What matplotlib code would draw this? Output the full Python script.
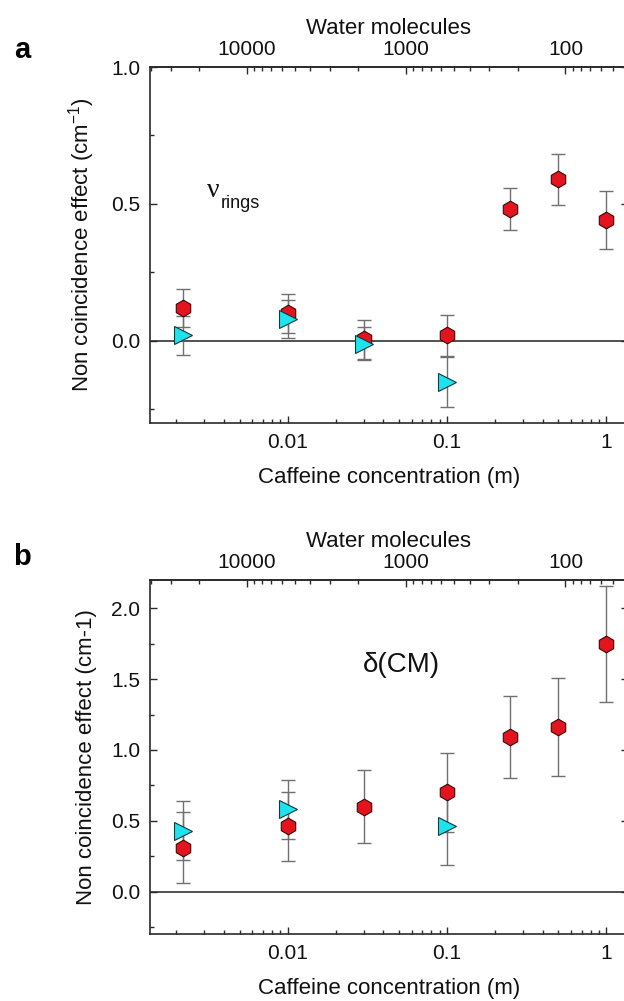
import numpy as np
import matplotlib
matplotlib.use("Agg")
import matplotlib.pyplot as plt
from matplotlib.ticker import FuncFormatter, NullFormatter, LogLocator, MultipleLocator

plt.rcParams['font.family'] = ['Liberation Sans', 'DejaVu Sans']
plt.rcParams['mathtext.fontset'] = 'custom'
plt.rcParams['mathtext.rm'] = 'Liberation Sans'
plt.rcParams['mathtext.it'] = 'Liberation Sans:italic'
plt.rcParams['mathtext.sf'] = 'Liberation Sans'

# ---------------- data ----------------
WATER_PER_MOLAL = 55.5  # water molecules per caffeine at 1 m

conc_red = [0.0022, 0.01, 0.03, 0.1, 0.25, 0.5, 1.0]
conc_cyan = [0.0022, 0.01, 0.03, 0.1]

# panel a: nu_rings
a_red = [0.12, 0.10, 0.005, 0.02, 0.48, 0.59, 0.44]
a_red_err = [0.07, 0.07, 0.07, 0.075, 0.077, 0.094, 0.106]
a_cyan = [0.02, 0.08, -0.01, -0.15]
a_cyan_err = [0.07, 0.07, 0.06, 0.09]

# panel b: delta(CM)
b_red = [0.31, 0.46, 0.60, 0.70, 1.09, 1.16, 1.75]
b_red_err = [0.25, 0.245, 0.255, 0.28, 0.29, 0.345, 0.41]
b_cyan = [0.43, 0.58, 0.46]
b_cyan_x = [0.0022, 0.01, 0.1]
b_cyan_err = [0.21, 0.21, 0.27]

bottom_ticks = [0.01, 0.1, 1]
top_ticks = [10000, 1000, 100]

RED = '#e3141d'
CYAN = '#1ee3ee'
ERR = '#707070'
SPINE = '#2a2a2a'
TFS = 15   # tick labels
LFS = 16   # axis labels

fig = plt.figure(figsize=(6.24, 10.01), dpi=100)

W, H = 624, 1001
def rect(l, t, r, b):
    return [l / W, 1 - b / H, (r - l) / W, (b - t) / H]

ax_a = fig.add_axes(rect(150, 67, 628, 423))
ax_b = fig.add_axes(rect(150, 580, 628, 934))

m2w = lambda m: WATER_PER_MOLAL / np.asarray(m, dtype=float)
w2m = lambda w: WATER_PER_MOLAL / np.asarray(w, dtype=float)


def style(ax, ylim, label):
    ax.set_xscale('log')
    ax.set_xlim(0.00137, 1.37)
    ax.set_ylim(*ylim)
    ax.axhline(0, color='#222222', lw=1.1, zorder=1)
    for s in ax.spines.values():
        s.set_color(SPINE)
        s.set_linewidth(1.2)
    ax.xaxis.set_major_locator(LogLocator(base=10, numticks=10))
    ax.xaxis.set_minor_locator(LogLocator(base=10, subs=np.arange(2, 10), numticks=10))
    ax.xaxis.set_major_formatter(FuncFormatter(lambda v, p: '%g' % v))
    ax.xaxis.set_minor_formatter(NullFormatter())
    ax.set_xticks(bottom_ticks)
    ax.yaxis.set_major_locator(MultipleLocator(0.5))
    ax.yaxis.set_minor_locator(MultipleLocator(0.25))
    ax.yaxis.set_major_formatter(FuncFormatter(lambda v, p: '%.1f' % v))
    ax.tick_params(which='both', direction='in', right=True, top=False,
                   colors=SPINE, labelcolor='#111111', labelsize=TFS, width=1.0)
    ax.tick_params(which='major', length=5, pad=7)
    ax.tick_params(which='minor', length=3)
    ax.set_xlabel('Caffeine concentration (m)', fontsize=LFS, labelpad=11, color='#111111')
    ax.set_ylabel(label, fontsize=LFS, labelpad=10, color='#111111')

    sec = ax.secondary_xaxis('top', functions=(m2w, w2m))
    sec.set_xticks(top_ticks)
    sec.xaxis.set_major_formatter(FuncFormatter(lambda v, p: '%d' % round(v)))
    sec.xaxis.set_minor_formatter(NullFormatter())
    sec.tick_params(which='both', direction='in', colors=SPINE, labelcolor='#111111',
                    labelsize=TFS, width=1.0)
    sec.tick_params(which='major', length=5, pad=6)
    sec.tick_params(which='minor', length=3)
    sec.spines['top'].set_color(SPINE)
    sec.spines['top'].set_linewidth(1.2)
    sec.set_xlabel('Water molecules', fontsize=LFS, labelpad=4, color='#111111')
    return sec


def draw(ax, xr, yr, er, xc, yc, ec):
    kw = dict(fmt='none', ecolor=ERR, elinewidth=1.0, capsize=5, capthick=1.0, zorder=2)
    ax.errorbar(xr, yr, yerr=er, **kw)
    ax.errorbar(xc, yc, yerr=ec, **kw)
    ax.plot(xr, yr, linestyle='none', marker='h', ms=12, mfc=RED, mec='#3a0a0a',
            mew=0.8, zorder=3)
    ax.plot(xc, yc, linestyle='none', marker='>', ms=12.5, mfc=CYAN, mec='#0a3a3a',
            mew=0.8, zorder=4)


style(ax_a, (-0.3, 1.0), 'Non coincidence effect (cm$^{-1}$)')
draw(ax_a, conc_red, a_red, a_red_err, conc_cyan, a_cyan, a_cyan_err)
fig.text(207 / W, 1 - 197 / H, 'ν', fontsize=20, color='#111111',
         family=['Liberation Serif', 'DejaVu Serif'], va='baseline', ha='left')
fig.text(221 / W, 1 - 208 / H, 'rings', fontsize=13, color='#111111',
         va='baseline', ha='left')

style(ax_b, (-0.3, 2.2), 'Non coincidence effect (cm-1)')
draw(ax_b, conc_red, b_red, b_red_err, b_cyan_x, b_cyan, b_cyan_err)
ax_b.text(0.052, 1.60, 'δ(CM)', fontsize=20, color='#111111', ha='center', va='center')

fig.text(22 / W, 1 - 50 / H, 'a', fontsize=21, fontweight='bold', ha='center', va='center')
fig.text(22 / W, 1 - 557 / H, 'b', fontsize=21, fontweight='bold', ha='center', va='center')

fig.savefig('out.png', dpi=100, facecolor='white')
